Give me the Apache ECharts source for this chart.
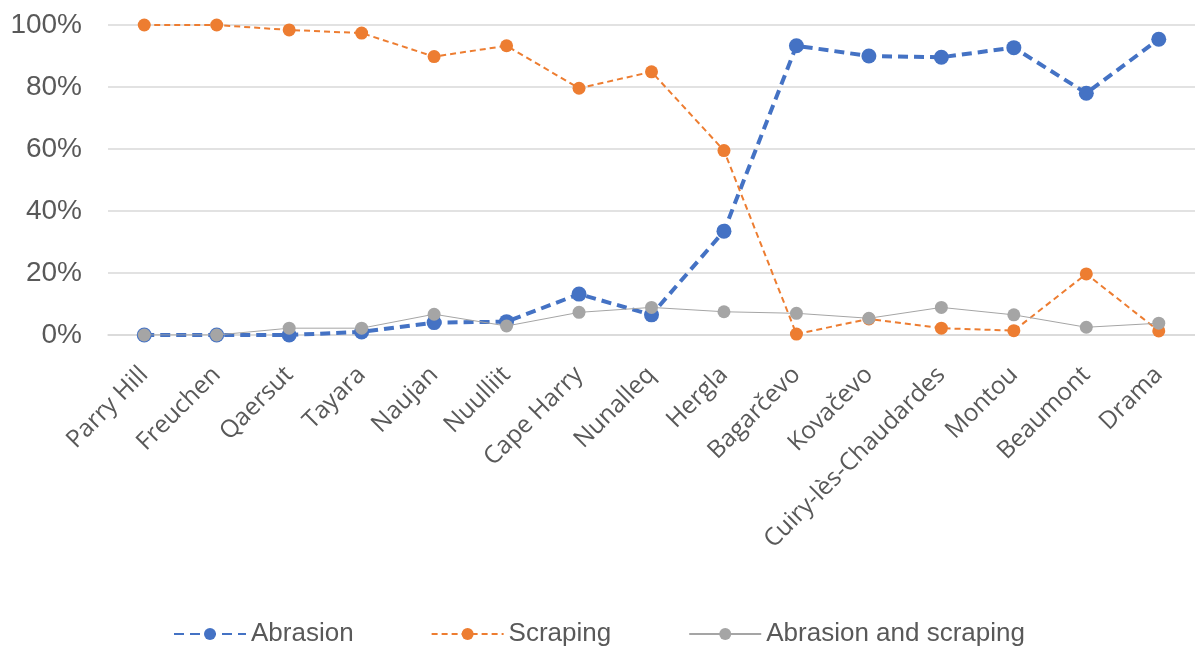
<!DOCTYPE html>
<html><head><meta charset="utf-8">
<script src="https://cdn.jsdelivr.net/npm/echarts@6/dist/echarts.min.js"></script>
<style>html,body{margin:0;padding:0;background:#fff}#c{width:1195px;height:648px}</style>
</head><body><div id="c"></div>
<script>
const categories = ["Parry Hill","Freuchen","Qaersut","Tayara","Naujan","Nuulliit","Cape Harry","Nunalleq","Hergla","Bagarčevo","Kovačevo","Cuiry-lès-Chaudardes","Montou","Beaumont","Drama"];
const abrasion = [0, 0, 0, 1, 4, 4.3, 13.2, 6.5, 33.5, 93.3, 90, 89.6, 92.7, 78, 95.4];
const scraping = [100, 100, 98.4, 97.4, 89.8, 93.3, 79.6, 84.9, 59.5, 0.3, 5.2, 2.2, 1.4, 19.7, 1.3];
const abrasionAndScraping = [0, 0, 2.2, 2.2, 6.7, 2.9, 7.3, 8.9, 7.5, 7.0, 5.4, 8.9, 6.5, 2.5, 3.8];
const yTicks = [0, 20, 40, 60, 80, 100];

const chart = echarts.init(document.getElementById('c'), null, {renderer:'canvas'});
chart.setOption({
  animation: false,
  grid: {left: 108, top: 25, width: 1090, height: 310, containLabel: false},
  xAxis: {
    type: 'category', data: categories, boundaryGap: true,
    axisLine: {show: true, lineStyle: {color: '#d9d9d9', width: 1.5}},
    axisTick: {show: false},
    axisLabel: {rotate: 45, interval: 0, margin: 36, color: '#595959', fontFamily: 'Open Sans', fontSize: 24.5}
  },
  yAxis: {
    type: 'value', min: yTicks[0], max: yTicks[yTicks.length-1], interval: 20,
    axisLine: {show: false}, axisTick: {show: false},
    splitLine: {lineStyle: {color: '#d9d9d9', width: 1.5}},
    axisLabel: {formatter: '{value}%', color: '#595959', fontFamily: 'Liberation Sans', fontSize: 28, margin: 26}
  },
  legend: {
    left: 168, top: 616, itemWidth: 72, itemHeight: 15, itemGap: 77,
    textStyle: {color: '#595959', fontFamily: 'Liberation Sans', fontSize: 26},
    data: ['Abrasion','Scraping','Abrasion and scraping']
  },
  series: [
    {name: 'Abrasion', type: 'line', data: abrasion, symbol: 'circle', symbolSize: 15,
     itemStyle: {color: '#4472C4'}, lineStyle: {color: '#4472C4', width: 4, type: [10, 6]}, z: 2},
    {name: 'Scraping', type: 'line', data: scraping, symbol: 'circle', symbolSize: 13,
     itemStyle: {color: '#ED7D31'}, lineStyle: {color: '#ED7D31', width: 2, type: [6, 4]}, z: 3},
    {name: 'Abrasion and scraping', type: 'line', data: abrasionAndScraping, symbol: 'circle', symbolSize: 13,
     itemStyle: {color: '#A5A5A5'}, lineStyle: {color: '#A5A5A5', width: 1}, z: 4}
  ]
});
</script></body></html>
